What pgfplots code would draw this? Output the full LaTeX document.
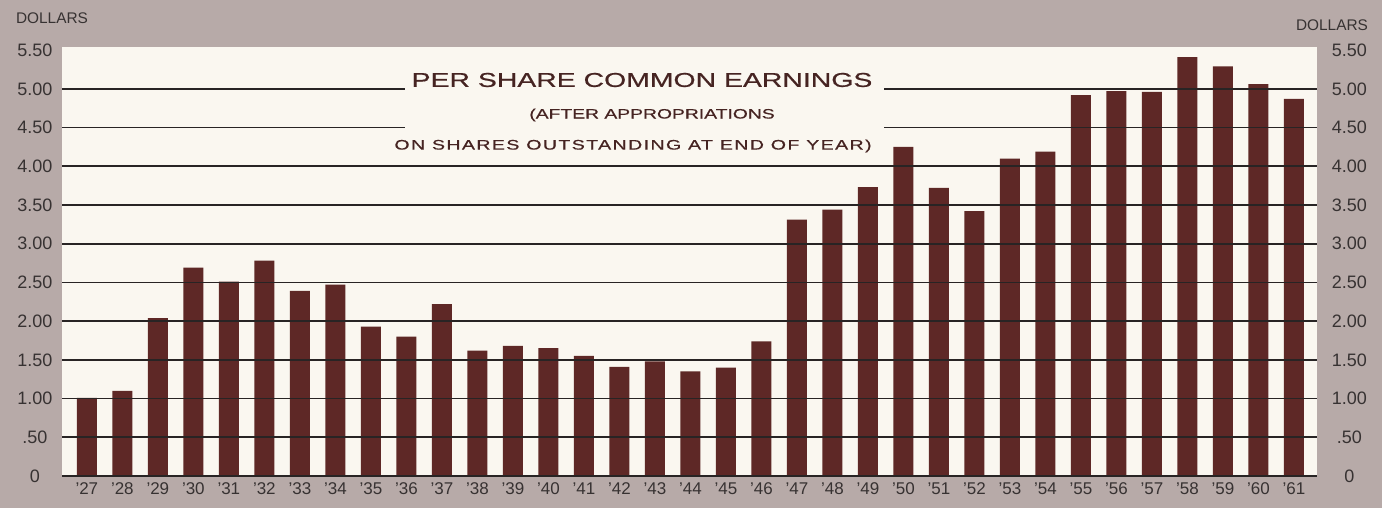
\documentclass[border=0pt]{standalone}
\usepackage{pgfplots}
\pgfplotsset{compat=1.18}
\usepackage{fontspec}
\setmainfont{Liberation Sans}
\newfontfamily\titlefont[FakeStretch=1.42, FakeBold=0.6]{Liberation Sans}
\definecolor{bgcol}{RGB}{183,170,168}
\definecolor{plotbg}{RGB}{250,247,240}
\definecolor{barcol}{RGB}{94,40,38}
\definecolor{gridcol}{RGB}{40,36,36}
\definecolor{txtcol}{RGB}{55,50,50}
\definecolor{titlecol}{RGB}{70,36,34}
\begin{document}
\begin{tikzpicture}
\useasboundingbox (0,0) rectangle (691pt,254pt);
\fill[bgcol] (0,0) rectangle (691pt,254pt);
\begin{axis}[
  at={(31pt,16pt)}, anchor=south west, scale only axis,
  width=627.5pt, height=214.5pt,
  xmin=-0.7, xmax=34.65, ymin=0, ymax=5.54,
  axis background/.style={fill=plotbg},
  axis line style={draw=none},
  axis on top,
  ymajorgrids,
  grid style={gridcol, line width=0.9pt},
  major tick length=0pt,
  ytick={0,0.5,1,1.5,2,2.5,3,3.5,4,4.5,5},
  yticklabels={0,.50,1.00,1.50,2.00,2.50,3.00,3.50,4.00,4.50,5.00},
  extra y ticks={5.5},
  extra y tick labels={5.50},
  extra y tick style={grid=none},
  yticklabel style={text width=20pt, align=center, font=\fontsize{9}{10}\selectfont, text=txtcol},
  xtick={0,...,34},
  xticklabels={’27,’28,’29,’30,’31,’32,’33,’34,’35,’36,’37,’38,’39,’40,’41,’42,’43,’44,’45,’46,’47,’48,’49,’50,’51,’52,’53,’54,’55,’56,’57,’58,’59,’60,’61},
  xticklabel style={font=\fontsize{8.5}{10}\selectfont, text=txtcol},
]
\addplot[ybar, fill=barcol, draw=none, bar width=0.564] coordinates {
(0,1.01) (1,1.10) (2,2.04) (3,2.69) (4,2.51) (5,2.78) (6,2.39) (7,2.47) (8,1.93) (9,1.80)
(10,2.22) (11,1.62) (12,1.68) (13,1.65) (14,1.55) (15,1.41) (16,1.48) (17,1.35) (18,1.40) (19,1.74)
(20,3.31) (21,3.44) (22,3.73) (23,4.25) (24,3.72) (25,3.42) (26,4.10) (27,4.19) (28,4.92) (29,4.97)
(30,4.96) (31,5.41) (32,5.29) (33,5.06) (34,4.87)
};
\end{axis}
\begin{axis}[
  at={(31pt,16pt)}, anchor=south west, scale only axis,
  width=627.5pt, height=214.5pt,
  xmin=-0.7, xmax=34.65, ymin=0, ymax=5.54,
  axis line style={draw=none},
  major tick length=0pt,
  xtick=\empty,
  yticklabel pos=right,
  ytick={0,0.5,1,1.5,2,2.5,3,3.5,4,4.5,5,5.5},
  yticklabels={0,.50,1.00,1.50,2.00,2.50,3.00,3.50,4.00,4.50,5.00,5.50},
  yticklabel style={text width=20pt, align=center, xshift=2.7pt, font=\fontsize{9}{10}\selectfont, text=txtcol},
]
\end{axis}
\fill[plotbg] (202.5pt,175.5pt) rectangle (442pt,219pt);
\node[text=titlecol, font=\titlefont\fontsize{10}{12}\selectfont, inner sep=0pt] at (321pt,214pt) {PER SHARE COMMON EARNINGS};
\node[text=titlecol, font=\titlefont\fontsize{6.8}{8}\selectfont, inner sep=0pt] at (326pt,196.5pt) {(AFTER APPROPRIATIONS};
\node[text=titlecol, font=\titlefont\fontsize{6.9}{8}\selectfont\addfontfeature{LetterSpace=10}, inner sep=0pt] at (316.5pt,181pt) {ON SHARES OUTSTANDING AT END OF YEAR)};
\node[text=txtcol, font=\fontsize{7.7}{9}\selectfont, inner sep=0pt] at (26pt,245pt) {DOLLARS};
\node[text=txtcol, font=\fontsize{7.7}{9}\selectfont, inner sep=0pt] at (666pt,241.5pt) {DOLLARS};
\end{tikzpicture}
\end{document}
